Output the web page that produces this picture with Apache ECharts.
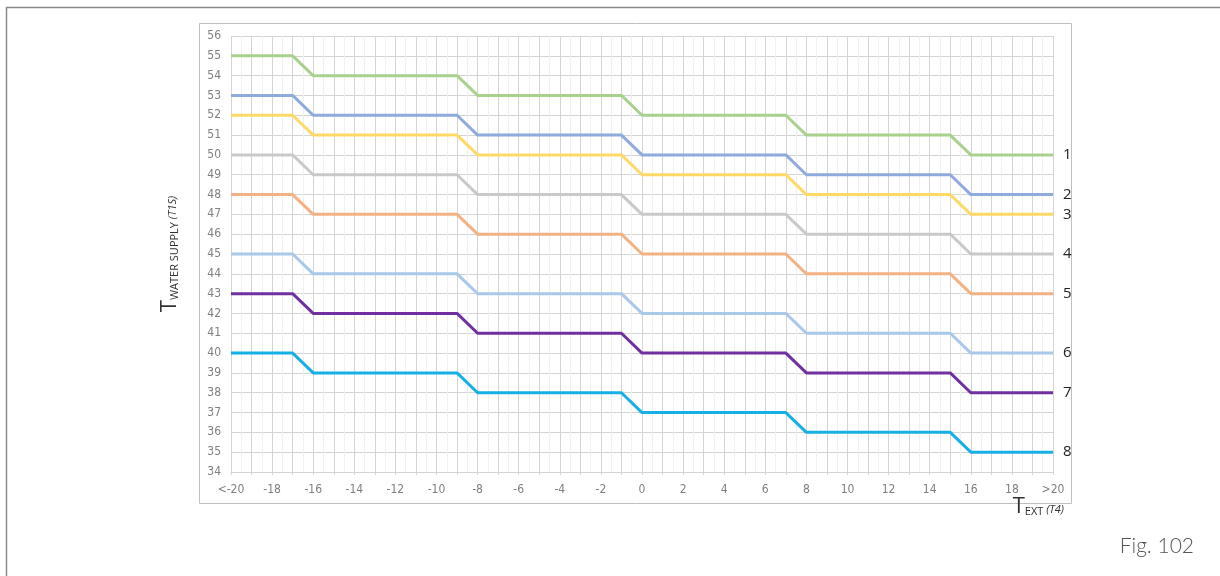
<!DOCTYPE html>
<html><head><meta charset="utf-8">
<script src="https://cdn.jsdelivr.net/npm/echarts@6/dist/echarts.min.js"></script>
<style>html,body{margin:0;padding:0;background:#fff}#c{width:1220px;height:576px}</style>
</head><body><div id="c"></div>
<script>
// Breakpoints of outside temperature (x) shared by all curves
const xPoints = [-20, -17, -16, -9, -8, -1, 0, 7, 8, 15, 16, 20];
// Water supply temperature curves 1..8
const curve1 = [55, 55, 54, 54, 53, 53, 52, 52, 51, 51, 50, 50];
const curve2 = [53, 53, 52, 52, 51, 51, 50, 50, 49, 49, 48, 48];
const curve3 = [52, 52, 51, 51, 50, 50, 49, 49, 48, 48, 47, 47];
const curve4 = [50, 50, 49, 49, 48, 48, 47, 47, 46, 46, 45, 45];
const curve5 = [48, 48, 47, 47, 46, 46, 45, 45, 44, 44, 43, 43];
const curve6 = [45, 45, 44, 44, 43, 43, 42, 42, 41, 41, 40, 40];
const curve7 = [43, 43, 42, 42, 41, 41, 40, 40, 39, 39, 38, 38];
const curve8 = [40, 40, 39, 39, 38, 38, 37, 37, 36, 36, 35, 35];
const curveNames = ['1', '2', '3', '4', '5', '6', '7', '8'];
const curveColors = ['#a9d18e', '#8faadc', '#ffd966', '#c9c9c9', '#f4b183', '#a9c8ea', '#7030a0', '#16b0e6'];
const curves = [curve1, curve2, curve3, curve4, curve5, curve6, curve7, curve8];

const chart = echarts.init(document.getElementById('c'));
const labelFont = '"Liberation Sans Narrow", "DejaVu Sans Condensed", sans-serif';
const titleRich = (key) => ({
  t: {fontSize: 22, [key]: '#333', fontFamily: '"Open Sans", sans-serif', lineHeight: 26},
  s: {fontSize: 11, [key]: '#333', fontFamily: '"Open Sans", sans-serif', padding: [10, 0, 0, 0]},
  i: {fontSize: 11, [key]: '#333', fontStyle: 'italic', fontFamily: '"Open Sans", sans-serif', padding: [6, 0, 0, 0]}
});
chart.setOption({
  animation: false,
  grid: {left: 231, right: 167, top: 36, bottom: 104},
  xAxis: {
    type: 'value', min: -20, max: 20, interval: 1,
    axisLine: {show: true, lineStyle: {color: '#d4d4d4'}},
    axisTick: {show: true, length: 3, lineStyle: {color: '#d4d4d4'}},
    axisLabel: {
      color: '#7f7f7f', fontSize: 12, fontFamily: labelFont, margin: 12,
      formatter: v => v === -20 ? '<-20' : (v === 20 ? '>20' : (Math.abs(v) % 2 === 0 ? String(v) : ''))
    },
    splitLine: {show: true, lineStyle: {color: '#d4d4d4', width: 1}},
    minorTick: {show: false, splitNumber: 2},
    minorSplitLine: {show: true, lineStyle: {color: '#f0f0f0'}}
  },
  yAxis: {
    type: 'value', min: 34, max: 56, interval: 1,
    axisLine: {show: false}, axisTick: {show: false},
    axisLabel: {color: '#7f7f7f', fontSize: 12, fontFamily: labelFont, margin: 10},
    splitLine: {show: true, lineStyle: {color: '#d4d4d4', width: 1}},
    name: '{t|T}{s|WATER SUPPLY }{i|(T1S)}',
    nameLocation: 'middle', nameRotate: 90, nameGap: 48,
    nameTextStyle: {rich: titleRich('color')}
  },
  series: curves.map((c, k) => ({
    type: 'line', name: curveNames[k], symbol: 'none',
    data: xPoints.map((x, j) => [x, c[j]]),
    lineStyle: {color: curveColors[k], width: 3},
    itemStyle: {color: curveColors[k]},
    endLabel: {show: true, formatter: curveNames[k], color: '#222', fontSize: 15,
      fontFamily: '"Open Sans", sans-serif', distance: 10}
  })),
  graphic: [
    {type: 'rect', shape: {x: 6.5, y: 7.5, width: 1300, height: 700}, style: {fill: 'none', stroke: '#8a8a8a', lineWidth: 1.5}, silent: true},
    {type: 'rect', shape: {x: 199.5, y: 23.5, width: 872, height: 480}, style: {fill: 'none', stroke: '#bfbfbf', lineWidth: 1}, silent: true, z: -1},
    {type: 'text', right: 156, top: 496, style: {text: '{t|T}{s|EXT }{i|(T4)}', rich: titleRich('fill')}},
    {type: 'text', right: 26, top: 536, style: {text: 'Fig. 102', fontSize: 21, fill: '#555', fontWeight: 300, fontFamily: 'Lato, "Open Sans", sans-serif'}}
  ]
});
</script></body></html>
